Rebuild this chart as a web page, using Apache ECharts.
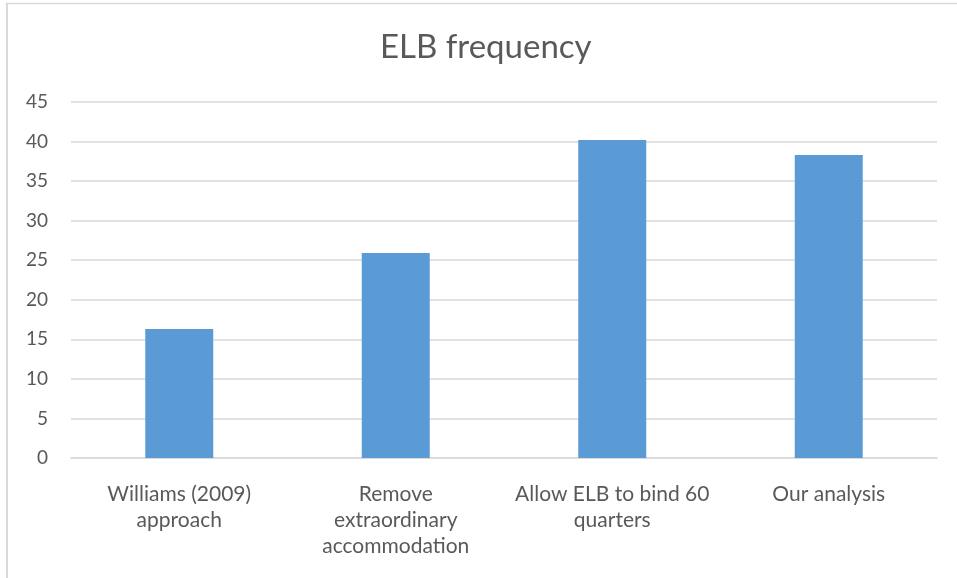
<!DOCTYPE html>
<html>
<head>
<meta charset="utf-8">
<script src="https://cdn.jsdelivr.net/npm/echarts@6/dist/echarts.min.js"></script>
<style>html,body{margin:0;padding:0;background:#fff;}#c{width:957px;height:578px;}</style>
</head>
<body>
<div id="c"></div>
<script>
const categories = ["Williams (2009)\napproach", "Remove\nextraordinary\naccommodation", "Allow ELB to bind 60\nquarters", "Our analysis"];
const values = [16.3, 25.9, 40.2, 38.3];
const yTicks = {min: 0, max: 45, interval: 5};
const titleText = "ELB frequency";

const chart = echarts.init(document.getElementById('c'));
const FONT = 'Lato';
chart.setOption({
  backgroundColor: '#fff',
  animation: false,
  title: {
    text: titleText, left: 375, top: 26,
    textStyle: {fontFamily: FONT, fontSize: 33, fontWeight: 'normal', color: '#595959'}
  },
  graphic: [
    {type: 'line', shape: {x1: 7, y1: 3, x2: 7, y2: 578}, style: {stroke: '#d9d9d9', lineWidth: 2}},
    {type: 'line', shape: {x1: 6, y1: 3.5, x2: 957, y2: 3.5}, style: {stroke: '#d9d9d9', lineWidth: 1.5}}
  ],
  grid: {left: 71, right: 20, top: 102, bottom: 120, containLabel: false},
  xAxis: {
    type: 'category', data: categories,
    axisTick: {show: false},
    axisLine: {lineStyle: {color: '#d9d9d9', width: 1.5}},
    axisLabel: {interval: 0, margin: 23, lineHeight: 26, fontFamily: FONT, fontSize: 21, color: '#595959', align: 'center'}
  },
  yAxis: {
    type: 'value', min: yTicks.min, max: yTicks.max, interval: yTicks.interval,
    axisLine: {show: false}, axisTick: {show: false},
    splitLine: {lineStyle: {color: '#d9d9d9', width: 1.5}},
    axisLabel: {margin: 23, fontFamily: FONT, fontSize: 19, color: '#595959'}
  },
  series: [{
    type: 'bar', data: values, barWidth: 68,
    itemStyle: {color: '#5b9bd5'}
  }]
});
</script>
</body>
</html>
